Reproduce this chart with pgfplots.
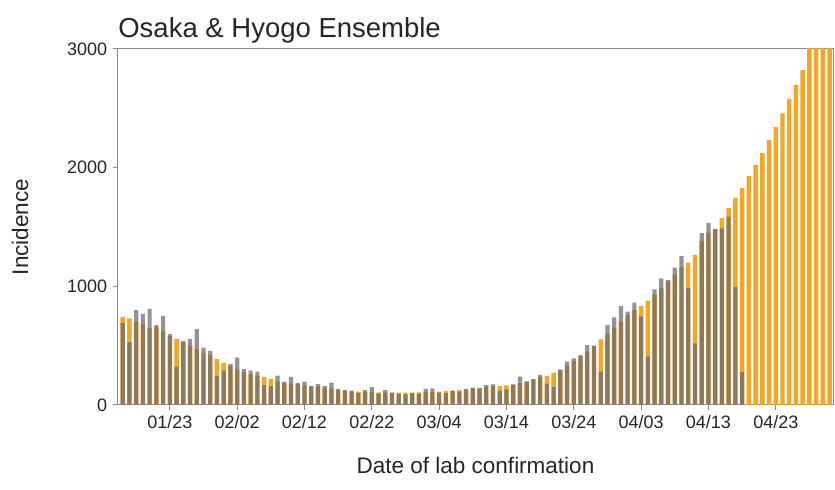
\documentclass[border=0pt]{standalone}
\usepackage{pgfplots}
\pgfplotsset{compat=1.18}
\usepackage{fontspec}
\setmainfont{Liberation Sans}
\usetikzlibrary{calc}
\definecolor{ensorange}{HTML}{F5A623}
\definecolor{obsgray}{HTML}{68686F}
\definecolor{spine}{HTML}{8A8A8A}

% day index: 0 = 01/23
\pgfplotstableread{
d v
-7 740
-6 730
-5 700
-4 680
-3 650
-2 660
-1 620
0 580
1 556
2 540
3 500
4 470
5 440
6 420
7 387
8 353
9 330
10 300
11 280
12 260
13 245
14 236
15 219
16 200
17 185
18 180
19 177
20 165
21 154
22 154
23 145
24 140
25 130
26 120
27 115
28 112
29 110
30 108
31 106
32 105
33 105
34 104
35 104
36 105
37 106
38 108
39 110
40 113
41 116
42 120
43 125
44 130
45 137
46 145
47 150
48 158
49 160
50 165
51 170
52 185
53 200
54 215
55 235
56 244
57 272
58 290
59 330
60 370
61 410
62 450
63 500
64 553
65 600
66 650
67 700
68 760
69 800
70 834
71 879
72 930
73 990
74 1040
75 1100
76 1160
77 1199
78 1264
79 1380
80 1450
81 1480
82 1575
83 1660
84 1744
85 1828
86 1929
87 2022
88 2123
89 2233
90 2342
91 2458
92 2578
93 2696
94 2822
95 3050
96 3180
97 3310
98 3450
}\ensemble

\pgfplotstableread{
d v
-7 690
-6 530
-5 800
-4 767
-3 809
-2 674
-1 750
0 598
1 323
2 533
3 556
4 640
5 483
6 457
7 244
8 290
9 345
10 399
11 303
12 289
13 281
14 168
15 160
16 247
17 197
18 236
19 185
20 197
21 160
22 175
23 160
24 188
25 135
26 126
27 120
28 100
29 125
30 150
31 95
32 125
33 105
34 95
35 90
36 100
37 95
38 135
39 140
40 105
41 100
42 120
43 112
44 135
45 146
46 140
47 168
48 174
49 120
50 130
51 174
52 239
53 197
54 219
55 253
56 180
57 150
58 300
59 365
60 393
61 421
62 505
63 499
64 281
65 674
66 739
67 834
68 786
69 862
70 744
71 407
72 975
73 1067
74 1053
75 1157
76 1255
77 983
78 520
79 1449
80 1533
81 1483
82 1489
83 1587
84 994
85 280
}\observed

\begin{document}
\begin{tikzpicture}
\begin{axis}[
    name=ax,
    scale only axis,
    width=429pt, height=213.6pt,
    xmin=-7.7, xmax=98.5,
    ymin=0, ymax=3000,
    xtick={0,10,20,30,40,50,60,70,80,90},
    xticklabels={01/23,02/02,02/12,02/22,03/04,03/14,03/24,04/03,04/13,04/23},
    ytick={0,1000,2000,3000},
    scaled y ticks=false,
    /pgf/number format/assume math mode=true,
    /pgf/number format/set thousands separator={},
    tick label style={font=\fontsize{10.8}{12}\selectfont, text=black!85},
    tick align=outside,
    major tick length=3pt,
    tick style={spine, line width=0.6pt},
    xtick pos=bottom, ytick pos=left,
    axis line style={spine, line width=0.6pt},
    xlabel={Date of lab confirmation},
    ylabel={Incidence},
    label style={font=\fontsize{13.5}{15}\selectfont, text=black!85},
    x label style={at={(axis description cs:0.5,-0.169)}, anchor=center},
    y label style={at={(axis description cs:-0.137,0.5)}, anchor=center},
    title={Osaka \& Hyogo Ensemble},
    title style={font=\fontsize{16.5}{18}\selectfont, text=black!85,
        at={(axis description cs:0,1)}, anchor=south west, inner sep=0pt, yshift=-3pt},
]
\addplot[ybar, bar width=0.66, bar shift=0pt, fill=ensorange, draw=none]
    table[x=d, y=v] {\ensemble};
\addplot[ybar, bar width=0.62, bar shift=0pt, fill=obsgray, fill opacity=0.72, draw=none]
    table[x=d, y=v] {\observed};
\end{axis}
\pgfresetboundingbox
\path[use as bounding box] ($(ax.south west)+(-70.8pt,-51pt)$) rectangle ($(ax.north east)+(1.2pt,29.4pt)$);
\end{tikzpicture}
\end{document}
